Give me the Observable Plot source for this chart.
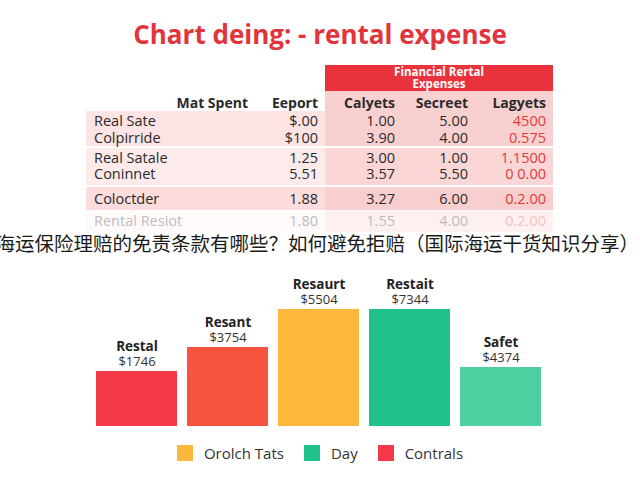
<!DOCTYPE html>
<html><head><meta charset="utf-8">
<script src="https://cdn.jsdelivr.net/npm/d3@7"></script>
<script src="https://cdn.jsdelivr.net/npm/@observablehq/plot@0.6"></script>
<style>
html,body{margin:0;padding:0;width:640px;height:480px;overflow:hidden;background:#fff;font-family:"Open Sans",sans-serif;}
.abs{position:absolute;}
#title{left:0;width:640px;top:18px;text-align:center;font-size:26px;font-weight:700;color:#e2353b;line-height:32px;}
#band{left:325px;top:65px;width:228px;height:26px;background:#e9323b;color:#fff;font-weight:700;font-size:11.5px;line-height:12px;text-align:center;padding-top:1px;box-sizing:border-box;}
.bg{position:absolute;}
.cellt{position:absolute;font-size:14.5px;color:#2a2a2a;white-space:nowrap;line-height:15px;}
.hdr{font-weight:700;font-size:14px;}
#cn{right:1px;top:233px;font-size:19.5px;color:#1a1a1a;white-space:nowrap;font-family:"Noto Sans CJK SC",sans-serif;line-height:20px;}
#chart{left:0;top:270px;}
#legend{left:0;width:640px;top:443px;display:flex;justify-content:center;align-items:center;font-size:15px;color:#333;}
#legend .it{display:flex;align-items:center;margin:0 10px;}
#legend .sw{width:16px;height:16px;margin-right:11px;}
</style></head>
<body>
<div id="title" class="abs">Chart deing: - rental expense</div>
<div id="table"></div>
<div id="band" class="abs">Financial Rertal<br>Expenses</div>
<div id="cn" class="abs">海运保险理赔的免责条款有哪些？如何避免拒赔（国际海运干货知识分享）</div>
<div id="chart" class="abs"></div>
<div id="legend" class="abs"></div>
<script>
// ---- table data ----
const headers = ["Mat Spent","Eeport","Calyets","Secreet","Lagyets"];
const rowNames = ["Real Sate","Colpirride","Real Satale","Coninnet","Coloctder","Rental Resiot"];
const eeport = ["$.00","$100","1.25","5.51","1.88","1.80"];
const calyets = ["1.00","3.90","3.00","3.57","3.27","1.55"];
const secreet = ["5.00","4.00","1.00","5.50","6.00","4.00"];
const lagyets = ["4500","0.575","1.1500","0 0.00","0.2.00","0.2.00"];

// ---- bar chart data ----
const barNames = ["Restal","Resant","Resaurt","Restait","Safet"];
const barLabels = ["$1746","$3754","$5504","$7344","$4374"];
const barValues = [55, 79, 117, 117, 59];
const barColors = ["#f43a48","#f7543f","#fbb83c","#1fc28c","#4dcfa0"];
const legendNames = ["Orolch Tats","Day","Contrals"];
const legendColors = ["#fbb83c","#1fc28c","#f43a48"];

// ---- table layout ----
const table = document.getElementById("table");
function box(l,t,w,h,c){const d=document.createElement("div");d.className="bg";Object.assign(d.style,{left:l+"px",top:t+"px",width:w+"px",height:h+"px",background:c});table.appendChild(d);}
box(86,111,239,35,"#fde3e3"); box(325,91,228,55,"#f9d0d0");
box(86,148,239,37,"#fdeaea"); box(325,148,228,37,"#fad6d6");
box(86,187,239,23,"#fcdcdc"); box(325,187,228,23,"#f9cece");
box(86,211,239,21,"#fffafa"); box(325,211,228,21,"#fdf0f0");
const colRight = [248,318,395,468,546];
const rowCenters = [120,137,157,173,198,220];
function txt(s,x,y,opt={}){const d=document.createElement("div");d.className="cellt"+(opt.hdr?" hdr":"");d.textContent=s;
  d.style.top=(y-7.5)+"px";
  if(opt.right){d.style.right=(640-x)+"px";}else{d.style.left=x+"px";}
  if(opt.color)d.style.color=opt.color;table.appendChild(d);}
headers.forEach((h,i)=>txt(h,colRight[i],102,{hdr:true,right:true}));
rowNames.forEach((n,i)=>{
  const faded = i===rowNames.length-1;
  const c = faded?"#bdbdbd":"#2a2a2a";
  txt(n,94,rowCenters[i],{color:c});
  txt(eeport[i],colRight[1],rowCenters[i],{right:true,color:c});
  txt(calyets[i],colRight[2],rowCenters[i],{right:true,color:c});
  txt(secreet[i],colRight[3],rowCenters[i],{right:true,color:c});
  txt(lagyets[i],colRight[4],rowCenters[i],{right:true,color:faded?"#f2c0c0":"#e23a3a"});
});

// ---- bar chart ----
const bars = barNames.map((n,i)=>({name:n,label:barLabels[i],value:barValues[i]}));
const chart = Plot.plot({
  width:640, height:160,
  marginLeft:83, marginRight:87, marginTop:39, marginBottom:4,
  style:{fontFamily:"Open Sans, sans-serif", background:"transparent"},
  x:{domain:barNames, padding:0.11, axis:null},
  y:{domain:[0,117], axis:null},
  color:{domain:barNames, range:barColors},
  marks:[
    Plot.barY(bars,{x:"name",y:"value",fill:"name"}),
    Plot.text(bars,{x:"name",y:"value",text:"name",dy:-25,fontSize:13.5,fontWeight:700,fill:"#222"}),
    Plot.text(bars,{x:"name",y:"value",text:"label",dy:-10,fontSize:13,fill:"#333"})
  ]
});
document.getElementById("chart").appendChild(chart);

// ---- legend ----
const lg = document.getElementById("legend");
legendNames.forEach((n,i)=>{const it=document.createElement("div");it.className="it";
  it.innerHTML=`<div class="sw" style="background:${legendColors[i]}"></div><span>${n}</span>`;lg.appendChild(it);});
</script>
</body></html>
